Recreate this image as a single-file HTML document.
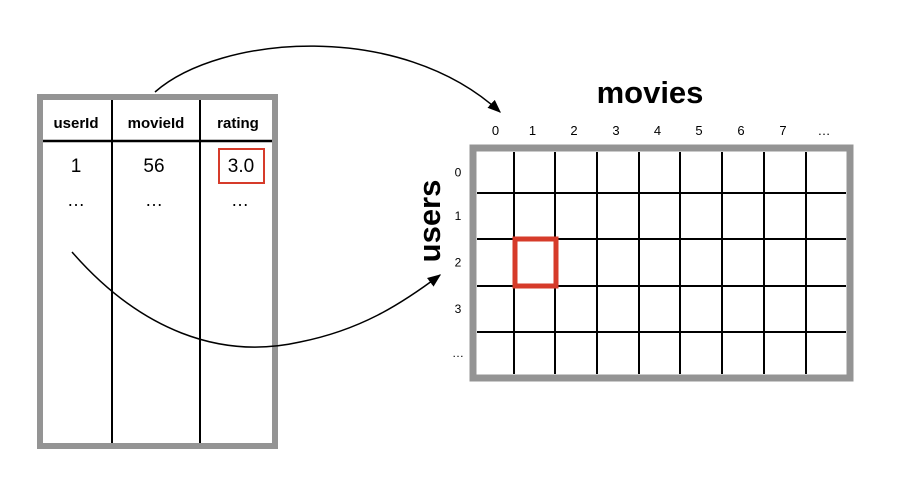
<!DOCTYPE html>
<html><head><meta charset="utf-8"><style>
html,body{margin:0;padding:0;background:#fff;width:908px;height:478px;overflow:hidden}
svg{display:block;font-family:"Liberation Sans",sans-serif}
</style></head><body>
<svg id="s" width="908" height="478" viewBox="0 0 908 478">
<defs><marker id="ah" viewBox="0 0 10 10" refX="9" refY="5" markerWidth="9" markerHeight="9" orient="auto"><path d="M0,1 L10,5 L0,9 z" fill="#000"/></marker></defs>
<g>
<rect x="40" y="97" width="235" height="349" fill="#fff" stroke="#949494" stroke-width="6"/>
<line x1="112" y1="100" x2="112" y2="443" stroke="#000" stroke-width="2"/>
<line x1="200" y1="100" x2="200" y2="443" stroke="#000" stroke-width="2"/>
<line x1="43" y1="141" x2="272" y2="141" stroke="#000" stroke-width="2.5"/>
<text x="76" y="128" font-size="15" font-weight="bold" text-anchor="middle">userId</text>
<text x="156" y="128" font-size="15" font-weight="bold" text-anchor="middle">movieId</text>
<text x="238" y="128" font-size="15" font-weight="bold" text-anchor="middle">rating</text>
<text x="76" y="172" font-size="19" text-anchor="middle">1</text>
<text x="154" y="172" font-size="19" text-anchor="middle">56</text>
<text x="241" y="172" font-size="19" text-anchor="middle">3.0</text>
<rect x="219" y="149" width="45" height="34" fill="none" stroke="#d63b2a" stroke-width="2"/>
<text x="76" y="206" font-size="18" text-anchor="middle">…</text>
<text x="154" y="206" font-size="18" text-anchor="middle">…</text>
<text x="240" y="206" font-size="18" text-anchor="middle">…</text>
</g>
<path d="M155,92 C220,35 400,20 500,112" fill="none" stroke="#000" stroke-width="1.5" marker-end="url(#ah)"/>
<path d="M72,252 C140,330 220,360 300,342 C360,330 400,305 440,275" fill="none" stroke="#000" stroke-width="1.5" marker-end="url(#ah)"/>
<text x="650" y="103" font-size="31" font-weight="bold" text-anchor="middle">movies</text>
<text transform="translate(440,221) rotate(-90)" font-size="31" font-weight="bold" text-anchor="middle">users</text>
<g id="grid"></g>
</svg>
<script>
const colLabels=["0","1","2","3","4","5","6","7","…"];
const rowLabels=["0","1","2","3","…"];
const highlightCell=[1,2];
const ns="http://www.w3.org/2000/svg";
const g=document.getElementById('grid');
const x0=477,x1=846,y0=152,y1=374;
const colX=[477,514,555,597,639,680,722,764,806,846];
const rowY=[152,193,239,286,332,374];
function mk(t,a){const e=document.createElementNS(ns,t);for(const k in a)e.setAttribute(k,a[k]);g.appendChild(e);return e;}
const b=mk('rect',{x:473,y:148,width:377,height:230,fill:'#fff',stroke:'#949494','stroke-width':7});


for(let i=1;i<colLabels.length;i++){const l=mk('line',{x1:colX[i],y1:y0,x2:colX[i],y2:y1,stroke:'#000','stroke-width':2});

}
for(let j=1;j<rowLabels.length;j++){const l=mk('line',{x1:x0,y1:rowY[j],x2:x1,y2:rowY[j],stroke:'#000','stroke-width':2});

}
colLabels.forEach((c,i)=>{const t=mk('text',{x:(colX[i]+colX[i+1])/2+(i==0?0:-2),y:135,'font-size':13,'text-anchor':'middle'});t.textContent=c;

});
rowLabels.forEach((r,j)=>{const t=mk('text',{x:458,y:(rowY[j]+rowY[j+1])/2+4,'font-size':12,'text-anchor':'middle'});t.textContent=r;

});
const [hc,hr]=highlightCell;
const h=mk('rect',{x:colX[hc]+1,y:rowY[hr],width:colX[hc+1]-colX[hc],height:rowY[hr+1]-rowY[hr],fill:'none',stroke:'#d63b2a','stroke-width':5});


</script>
</body></html>
